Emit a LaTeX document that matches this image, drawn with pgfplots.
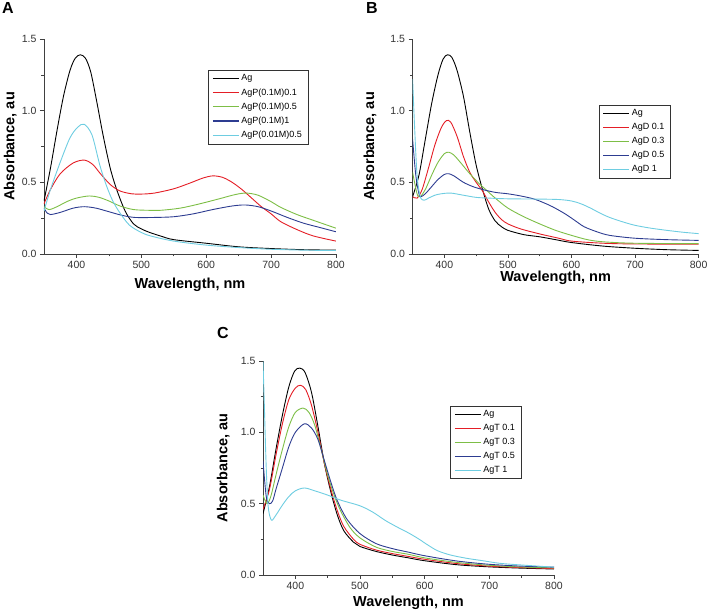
\documentclass[border=0pt]{standalone}
\usepackage{fontspec}
\setmainfont{Liberation Sans}
\usepackage{pgfplots}
\pgfplotsset{compat=1.18}

\definecolor{cRed}{RGB}{228,30,38}
\definecolor{cGreen}{RGB}{125,190,70}
\definecolor{cBlue}{RGB}{45,60,145}
\definecolor{cCyan}{RGB}{110,205,225}

\pgfplotsset{
  spec/.style={
    scale only axis, width=292pt, height=215pt,
    xmin=350, xmax=800, ymin=0, ymax=1.5,
    axis lines=left, axis line style={-, black!75, line width=0.8pt},
    xtick={400,500,600,700,800}, ytick={0,0.5,1,1.5},
    minor x tick num=1, minor y tick num=1,
    tick align=outside, major tick length=4pt, minor tick length=2.5pt,
    tick style={black!75, line width=0.6pt},
    tick label style={font=\fontsize{10.5}{12}\selectfont, text=black!80},
    /pgf/number format/assume math mode=true,
    yticklabel style={/pgf/number format/.cd, fixed, fixed zerofill, precision=1},
    label style={font=\fontsize{14.5}{16}\selectfont\bfseries},
    xlabel={Wavelength, nm}, ylabel={Absorbance, au},
    legend style={draw=black!80, font=\fontsize{9}{10}\selectfont,
      anchor=north west, legend cell align=left, row sep=2.2pt,
      inner xsep=4pt, inner ysep=2.5pt},
    legend image code/.code={\draw[#1, line width=1.1pt] (0pt,0pt) -- (26pt,0pt);},
    every axis plot/.append style={line width=0.9pt, smooth},
  }
}

\begin{document}
\begin{tikzpicture}
\path[use as bounding box] (0,0) rectangle (709pt,613pt);

% panel A
\node[font=\fontsize{16}{18}\selectfont\bfseries] at (8pt,605pt) {A};
\begin{axis}[spec, at={(44pt,359pt)},
  xlabel style={at={(axis description cs:0.5,-0.144)}, anchor=center},
  ylabel style={at={(axis description cs:-0.116,0.5)}, anchor=center},
  legend style={at={(0.562,0.856)}}]
\addplot[black] coordinates {(350,0.37)(360,0.60)(370,0.86)(380,1.10)(390,1.28)(398,1.365)(406,1.39)(414,1.365)(422,1.27)(431,1.07)(441,0.83)(452,0.60)(462,0.45)(475,0.30)(488,0.21)(500,0.175)(513,0.15)(530,0.125)(550,0.10)(600,0.075)(650,0.05)(700,0.038)(750,0.03)(800,0.027)};
\addlegendentry{Ag}
\addplot[cRed] coordinates {(350,0.35)(360,0.45)(375,0.56)(395,0.635)(412,0.655)(425,0.625)(437,0.56)(452,0.485)(467,0.44)(485,0.42)(500,0.418)(520,0.425)(550,0.455)(575,0.495)(595,0.53)(610,0.545)(625,0.535)(640,0.50)(655,0.45)(670,0.39)(685,0.33)(700,0.28)(715,0.225)(740,0.17)(765,0.126)(800,0.09)};
\addlegendentry{AgP(0.1M)0.1}
\addplot[cGreen] coordinates {(350,0.33)(358,0.31)(370,0.33)(385,0.365)(400,0.39)(420,0.405)(435,0.395)(450,0.37)(467,0.335)(488,0.31)(510,0.305)(530,0.305)(560,0.32)(590,0.35)(620,0.385)(645,0.415)(662,0.425)(680,0.41)(700,0.365)(715,0.325)(740,0.275)(765,0.235)(800,0.18)};
\addlegendentry{AgP(0.1M)0.5}
\addplot[cBlue] coordinates {(350,0.32)(355,0.285)(360,0.275)(375,0.29)(395,0.32)(412,0.33)(430,0.32)(450,0.295)(470,0.27)(490,0.255)(520,0.255)(550,0.26)(580,0.28)(610,0.31)(640,0.335)(660,0.342)(680,0.33)(700,0.30)(725,0.255)(750,0.215)(775,0.185)(800,0.155)};
\addlegendentry{AgP(0.1M)1}
\addplot[cCyan] coordinates {(350,0.30)(360,0.45)(375,0.64)(390,0.81)(402,0.885)(412,0.905)(424,0.83)(436,0.62)(446,0.48)(456,0.37)(468,0.28)(482,0.20)(500,0.15)(515,0.125)(550,0.09)(600,0.062)(650,0.045)(700,0.033)(750,0.027)(800,0.024)};
\addlegendentry{AgP(0.01M)0.5}
\end{axis}

% panel B
\node[font=\fontsize{16}{18}\selectfont\bfseries] at (372pt,605pt) {B};
\begin{axis}[spec, width=286pt, at={(412.6pt,359pt)},
  xlabel style={at={(axis description cs:0.5,-0.11)}, anchor=center},
  ylabel style={at={(axis description cs:-0.149,0.5)}, anchor=center},
  legend style={at={(0.65,0.693)}}]
\addplot[black] coordinates {(350,0.40)(360,0.55)(370,0.80)(380,1.05)(390,1.25)(398,1.36)(405,1.39)(412,1.37)(420,1.28)(430,1.10)(440,0.85)(450,0.62)(460,0.45)(470,0.31)(480,0.23)(490,0.19)(500,0.165)(525,0.135)(550,0.12)(575,0.10)(600,0.08)(650,0.055)(700,0.04)(750,0.03)(800,0.025)};
\addlegendentry{Ag}
\addplot[cRed] coordinates {(350,0.40)(357,0.39)(365,0.45)(375,0.60)(385,0.76)(395,0.88)(403,0.93)(410,0.92)(420,0.82)(430,0.68)(440,0.57)(450,0.50)(460,0.44)(470,0.36)(480,0.29)(490,0.24)(500,0.21)(520,0.175)(550,0.14)(580,0.11)(600,0.09)(650,0.075)(700,0.07)(800,0.068)};
\addlegendentry{AgD 0.1}
\addplot[cGreen] coordinates {(350,0.57)(357,0.42)(362,0.40)(370,0.45)(380,0.55)(390,0.64)(400,0.70)(407,0.71)(415,0.69)(425,0.64)(440,0.56)(455,0.49)(465,0.45)(480,0.39)(500,0.32)(525,0.26)(550,0.21)(575,0.165)(600,0.13)(625,0.10)(650,0.085)(700,0.075)(800,0.072)};
\addlegendentry{AgD 0.3}
\addplot[cBlue] coordinates {(350,0.80)(355,0.55)(360,0.42)(363,0.40)(370,0.42)(380,0.47)(390,0.52)(400,0.555)(407,0.56)(415,0.545)(430,0.50)(445,0.47)(460,0.45)(480,0.43)(500,0.42)(520,0.405)(540,0.385)(555,0.36)(570,0.33)(590,0.28)(605,0.235)(620,0.19)(640,0.155)(660,0.13)(700,0.11)(750,0.10)(800,0.095)};
\addlegendentry{AgD 0.5}
\addplot[cCyan] coordinates {(350,1.22)(353,0.90)(357,0.55)(362,0.40)(368,0.375)(375,0.39)(385,0.41)(395,0.42)(410,0.425)(430,0.41)(450,0.395)(470,0.39)(500,0.385)(550,0.383)(580,0.38)(600,0.37)(615,0.35)(630,0.32)(645,0.285)(660,0.255)(680,0.225)(700,0.20)(725,0.18)(750,0.165)(775,0.152)(800,0.142)};
\addlegendentry{AgD 1}
\end{axis}

% panel C
\node[font=\fontsize{16}{18}\selectfont\bfseries] at (223pt,280pt) {C};
\begin{axis}[spec, width=291pt, height=214pt, at={(263pt,38pt)},
  xlabel style={at={(axis description cs:0.5,-0.131)}, anchor=center},
  ylabel style={at={(axis description cs:-0.137,0.5)}, anchor=center},
  legend style={at={(0.643,0.79)}}]
\addplot[black] coordinates {(350,0.43)(360,0.62)(370,0.88)(380,1.12)(390,1.32)(399,1.43)(407,1.45)(415,1.42)(425,1.28)(435,1.04)(445,0.78)(455,0.58)(465,0.42)(475,0.31)(490,0.23)(500,0.20)(525,0.165)(550,0.14)(575,0.12)(600,0.10)(650,0.072)(700,0.057)(750,0.048)(800,0.042)};
\addlegendentry{Ag}
\addplot[cRed] coordinates {(350,0.46)(360,0.60)(370,0.84)(380,1.06)(390,1.23)(400,1.31)(408,1.33)(416,1.30)(425,1.19)(435,1.00)(445,0.78)(455,0.60)(465,0.45)(475,0.34)(490,0.25)(500,0.215)(525,0.175)(550,0.15)(575,0.13)(600,0.11)(650,0.08)(700,0.062)(750,0.052)(800,0.045)};
\addlegendentry{AgT 0.1}
\addplot[cGreen] coordinates {(350,0.56)(356,0.50)(362,0.55)(370,0.70)(380,0.88)(390,1.04)(400,1.14)(412,1.17)(421,1.14)(430,1.05)(440,0.88)(450,0.70)(460,0.56)(470,0.45)(485,0.33)(500,0.26)(525,0.195)(550,0.165)(575,0.145)(600,0.12)(650,0.088)(700,0.068)(750,0.056)(800,0.05)};
\addlegendentry{AgT 0.3}
\addplot[cBlue] coordinates {(350,0.80)(355,0.55)(360,0.50)(365,0.52)(370,0.60)(380,0.75)(390,0.90)(400,1.00)(414,1.06)(425,1.03)(435,0.95)(445,0.80)(455,0.65)(465,0.52)(480,0.39)(500,0.29)(525,0.22)(550,0.185)(575,0.16)(600,0.135)(650,0.098)(700,0.075)(750,0.062)(800,0.055)};
\addlegendentry{AgT 0.5}
\addplot[cCyan] coordinates {(350,1.50)(352,1.20)(355,0.75)(358,0.48)(363,0.385)(370,0.42)(380,0.49)(390,0.55)(400,0.59)(414,0.61)(430,0.59)(450,0.56)(470,0.525)(500,0.485)(520,0.44)(540,0.38)(560,0.33)(575,0.295)(590,0.255)(605,0.21)(620,0.17)(640,0.14)(665,0.117)(690,0.10)(716,0.082)(750,0.07)(800,0.055)};
\addlegendentry{AgT 1}
\end{axis}
\end{tikzpicture}
\end{document}
